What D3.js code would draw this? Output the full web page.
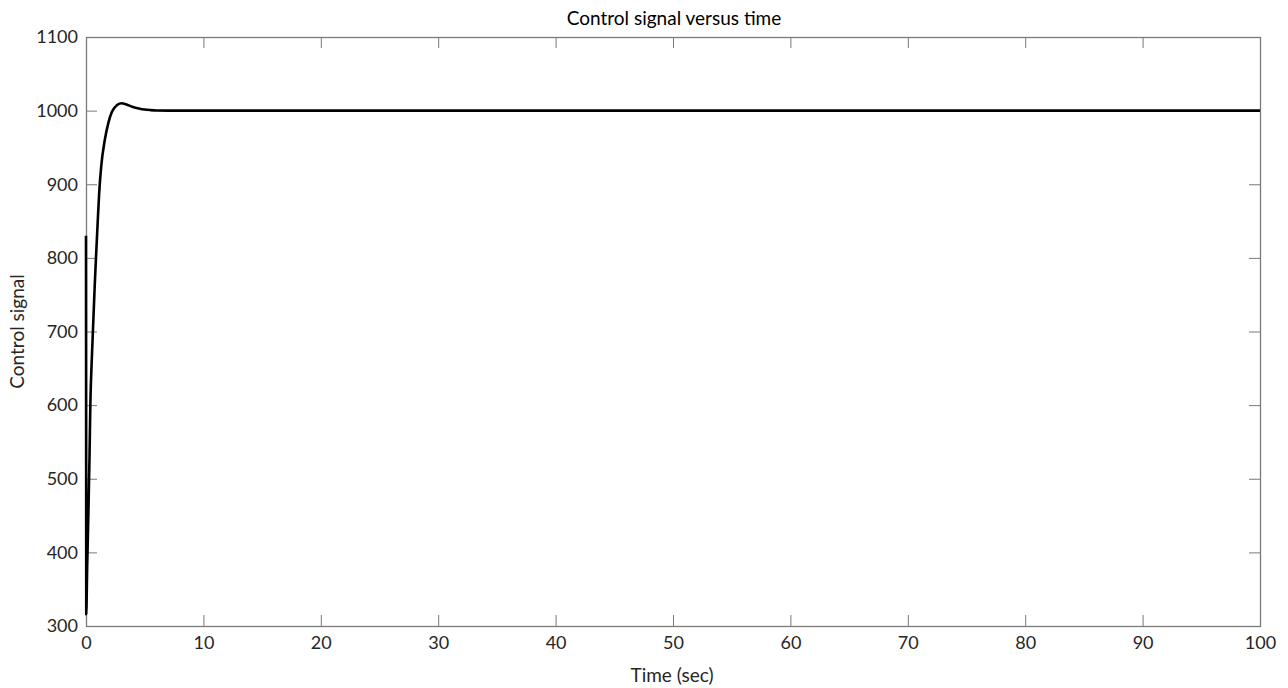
<!DOCTYPE html>
<html><head><meta charset="utf-8">
<script src="https://cdn.jsdelivr.net/npm/d3@7"></script>
<style>body{margin:0;background:#fff;} svg{display:block;} text{font-family:Lato,"Open Sans",sans-serif;}</style>
</head><body>
<script>
const title = "Control signal versus time";
const xLabel = "Time (sec)";
const yLabel = "Control signal";
const xTicks = [0,10,20,30,40,50,60,70,80,90,100];
const yTicks = [300,400,500,600,700,800,900,1000,1100];
const timeSec = [0, 0.02, 0.1, 0.2, 0.3, 0.37, 0.5, 0.6, 0.75, 0.85, 1.0, 1.13, 1.3, 1.6, 1.9, 2.2, 2.6, 3.0, 3.5, 4.0, 4.5, 5.0, 5.5, 6.0, 7.0, 100];
const control = [830, 316, 380, 450, 530, 600, 665, 705, 765, 800, 850, 890, 925, 960, 983, 998, 1007, 1010, 1008, 1005, 1003, 1001.5, 1000.7, 1000.2, 1000, 1000];

const W = 1288, H = 688;
const m = {left:86, right:1260, top:37, bottom:626};
const svg = d3.select("body").append("svg").attr("width",W).attr("height",H);
const x = d3.scaleLinear().domain([0,100]).range([m.left,m.right]);
const y = d3.scaleLinear().domain([300,1100]).range([m.bottom,m.top]);
const axisCol = "#7a7a7a", textCol = "#262626";
const font = "Lato, 'Open Sans', sans-serif";

function styleAxis(g){
  g.attr("font-family",font);
  g.select(".domain").remove();
  g.selectAll(".tick line").attr("stroke",axisCol).attr("stroke-width",1);
  g.selectAll(".tick text").attr("fill",textCol).attr("font-family",font).style("font-size","18px");
}
svg.append("g").attr("transform",`translate(0,${m.bottom})`)
  .call(d3.axisBottom(x).tickValues(xTicks).tickSize(-11).tickPadding(10).tickFormat(d3.format("d")))
  .call(styleAxis);
svg.append("g").attr("transform",`translate(0,${m.top})`)
  .call(d3.axisTop(x).tickValues(xTicks).tickSize(-11).tickFormat(""))
  .call(styleAxis);
svg.append("g").attr("transform",`translate(${m.left},0)`)
  .call(d3.axisLeft(y).tickValues(yTicks).tickSize(-11).tickPadding(8).tickFormat(d3.format("d")))
  .call(styleAxis);
svg.append("g").attr("transform",`translate(${m.right},0)`)
  .call(d3.axisRight(y).tickValues(yTicks).tickSize(-11).tickFormat(""))
  .call(styleAxis);

svg.append("rect").attr("x",m.left+0.5).attr("y",m.top+0.5)
  .attr("width",m.right-m.left).attr("height",m.bottom-m.top)
  .attr("fill","none").attr("stroke",axisCol).attr("stroke-width",1.3);

const pts = timeSec.map((t,i)=>[t,control[i]]);
svg.append("path").datum(pts)
  .attr("d", d3.line().x(d=>x(d[0])).y(d=>y(d[1])).curve(d3.curveMonotoneX))
  .attr("fill","none").attr("stroke","#000").attr("stroke-width",2.6).attr("stroke-linejoin","round");

svg.append("text").attr("x",(m.left+m.right)/2+1).attr("y",25).attr("text-anchor","middle")
  .attr("fill","#000").style("font-size","19px").text(title);
svg.append("text").attr("x",(m.left+m.right)/2-1).attr("y",682).attr("text-anchor","middle")
  .attr("fill",textCol).style("font-size","19px").text(xLabel);
svg.append("text").attr("transform",`translate(24,${(m.top+m.bottom)/2}) rotate(-90)`).attr("text-anchor","middle")
  .attr("fill",textCol).style("font-size","19px").text(yLabel);
</script>
</body></html>
